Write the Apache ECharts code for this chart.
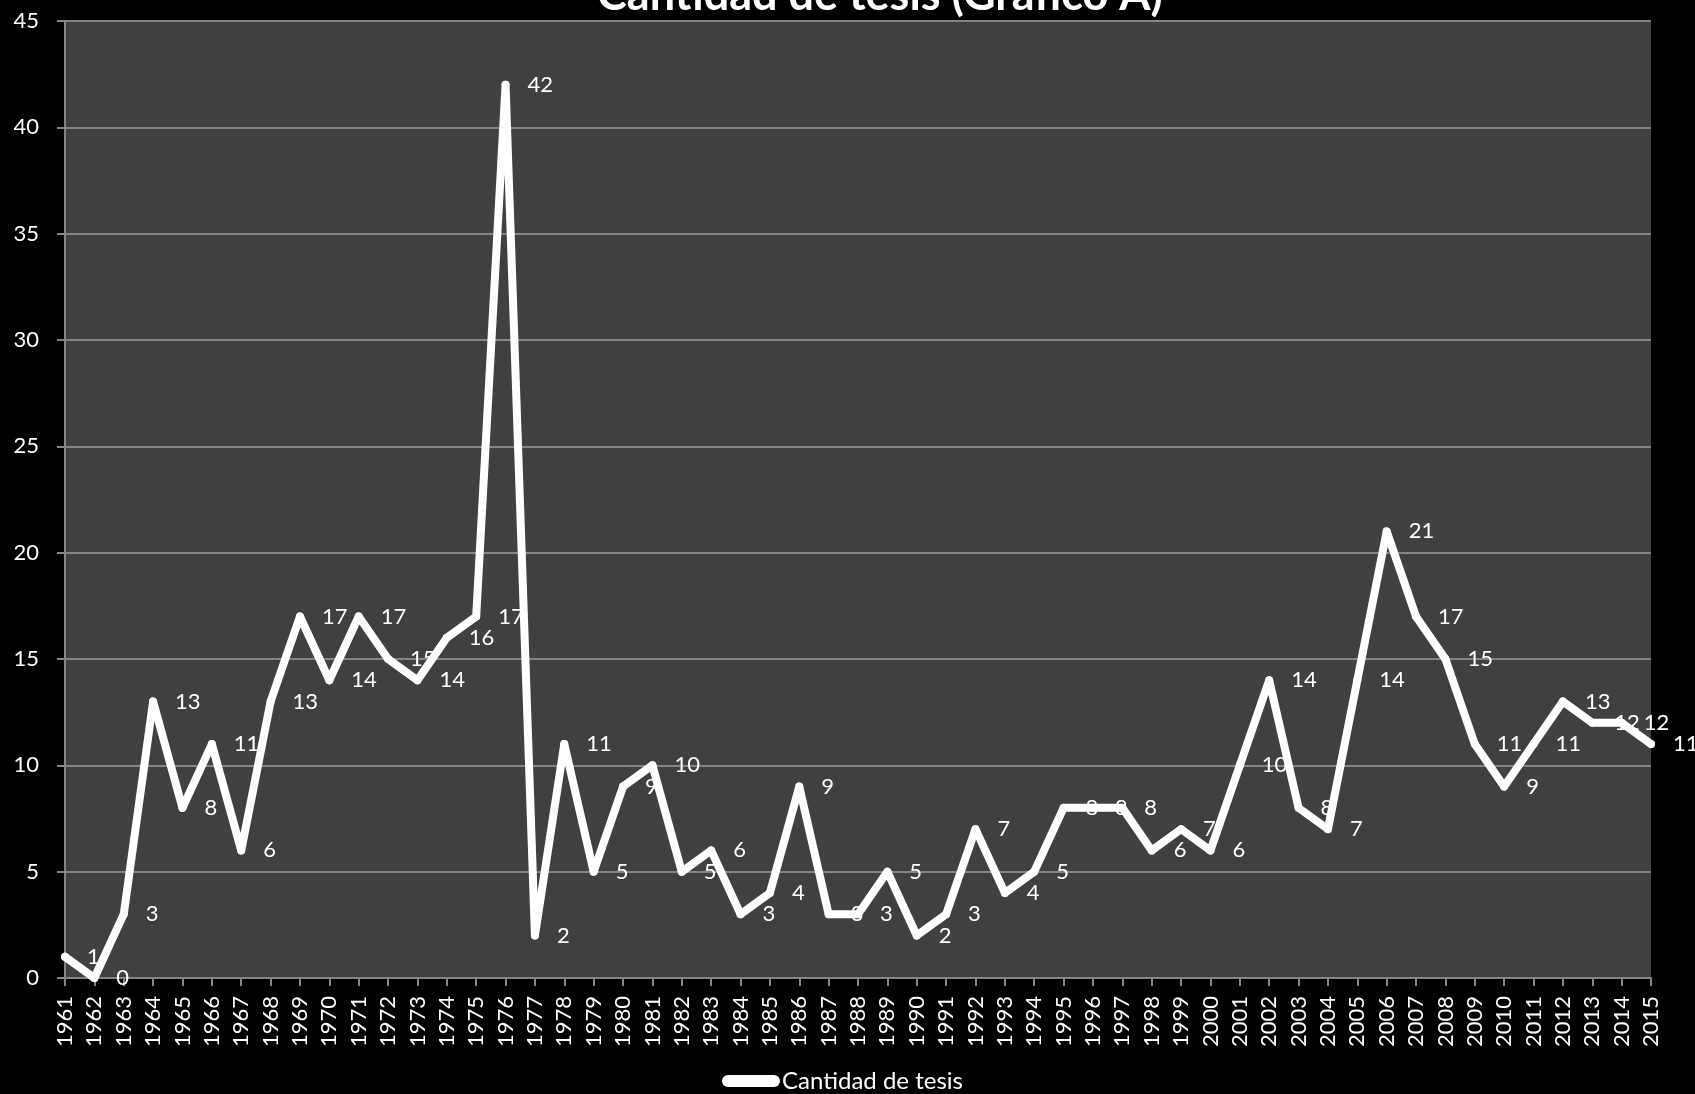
<!DOCTYPE html>
<html>
<head>
<meta charset="utf-8">
<script src="https://cdn.jsdelivr.net/npm/echarts@6/dist/echarts.min.js"></script>
<style>
  html, body { margin: 0; padding: 0; background: #000; }
  #chart { width: 1695px; height: 1094px; }
</style>
</head>
<body>
<div id="chart"></div>
<script>
// años y cantidad de tesis
const years = ['1961', '1962', '1963', '1964', '1965', '1966', '1967', '1968', '1969', '1970',
  '1971', '1972', '1973', '1974', '1975', '1976', '1977', '1978', '1979', '1980',
  '1981', '1982', '1983', '1984', '1985', '1986', '1987', '1988', '1989', '1990',
  '1991', '1992', '1993', '1994', '1995', '1996', '1997', '1998', '1999', '2000',
  '2001', '2002', '2003', '2004', '2005', '2006', '2007', '2008', '2009', '2010',
  '2011', '2012', '2013', '2014', '2015'];
const tesis = [1, 0, 3, 13, 8, 11, 6, 13, 17, 14,
  17, 15, 14, 16, 17, 42, 2, 11, 5, 9,
  10, 5, 6, 3, 4, 9, 3, 3, 5, 2,
  3, 7, 4, 5, 8, 8, 8, 6, 7, 6,
  10, 14, 8, 7, 14, 21, 17, 15, 11, 9,
  11, 13, 12, 12, 11];
const yTicks = {min: 0, max: 45, step: 5};

const font = 'Lato, "Open Sans", sans-serif';
const gray = '#858585';

let chart = echarts.init(document.getElementById('chart'));
chart.setOption({
  backgroundColor: '#000',
  animation: false,
  // el título queda cortado arriba, como en el original
  graphic: [{
    type: 'text',
    z: 100,
    style: {
      text: 'Cantidad de tesis (Gráfico A)',
      x: 880,
      y: -5,
      align: 'center',
      verticalAlign: 'middle',
      fill: '#fff',
      font: 'bold 45px ' + font
    }
  }],
  legend: {
    bottom: -4,
    left: 717,
    itemWidth: 58,
    itemHeight: 12,
    itemGap: 10,
    icon: 'path://M6,0 L52,0 A6,6 0 0 1 52,12 L6,12 A6,6 0 0 1 6,0 Z',
    textStyle: {color: '#fff', fontSize: 24, fontFamily: font, padding: [0, 0, 0, -3]},
    data: ['Cantidad de tesis']
  },
  grid: {
    left: 65,
    right: 44,
    top: 21,
    bottom: 116,
    show: true,
    backgroundColor: '#404040',
    borderWidth: 0
  },
  xAxis: {
    type: 'category',
    data: years,
    boundaryGap: false,
    axisLine: {lineStyle: {color: gray, width: 2}},
    axisTick: {show: true, length: 8, lineStyle: {color: gray, width: 2}},
    axisLabel: {
      rotate: 90,
      interval: 0,
      margin: 18,
      color: '#fff',
      fontSize: 22,
      fontFamily: font
    },
    splitLine: {show: false}
  },
  yAxis: {
    type: 'value',
    min: yTicks.min,
    max: yTicks.max,
    interval: yTicks.step,
    axisLine: {show: true, lineStyle: {color: gray, width: 2}},
    axisTick: {show: true, length: 8, lineStyle: {color: gray, width: 2}},
    axisLabel: {margin: 26, color: '#fff', fontSize: 22, fontFamily: font},
    splitLine: {lineStyle: {color: gray, width: 2}}
  },
  series: [{
    name: 'Cantidad de tesis',
    type: 'line',
    data: tesis,
    symbol: 'circle',
    symbolSize: 8,
    itemStyle: {color: '#fff'},
    lineStyle: {color: '#fff', width: 8, cap: 'round', join: 'round'},
    label: {
      show: true,
      position: 'right',
      distance: 18,
      color: '#fff',
      fontSize: 22,
      fontFamily: font
    }
  }]
});
</script>
</body>
</html>
